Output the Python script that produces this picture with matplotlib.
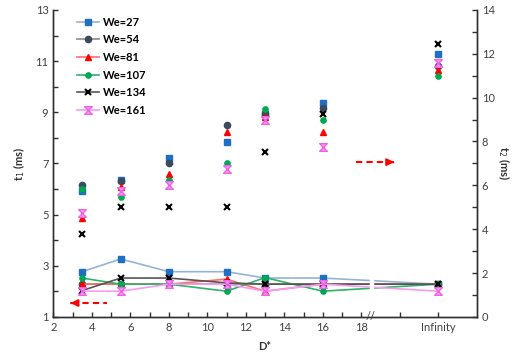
import numpy as np
import matplotlib
matplotlib.use("Agg")
import matplotlib.pyplot as plt
from matplotlib.path import Path

plt.rcParams['font.family'] = ['Lato', 'DejaVu Sans']

# D* positions (22 stands for "Infinity")
d_star = [3.5, 5.5, 8, 11, 13, 16, 22]
we_labels = ['We=27', 'We=54', 'We=81', 'We=107', 'We=134', 'We=161']

# t1 (ms), left axis
t1_we27 = [5.94, 6.35, 7.22, 7.84, 8.92, 9.36, 11.28]
t1_we54 = [6.14, 6.32, 7.00, 8.49, 8.95, 9.17, 10.80]
t1_we81 = [4.85, 6.09, 6.57, 8.24, 8.80, 8.24, 10.66]
t1_we107 = [6.00, 5.70, 6.36, 7.01, 9.14, 8.68, 10.40]
t1_we134 = [4.23, 5.29, 5.29, 5.29, 7.44, 8.93, 11.67]
t1_we161 = [5.07, 5.92, 6.14, 6.79, 8.71, 7.65, 10.92]

# t2 (ms), right axis
t2_we27 = [2.06, 2.64, 2.06, 2.06, 1.77, 1.77, 1.49]
t2_we54 = [1.49, 1.49, 1.49, 1.49, 1.49, 1.49, 1.49]
t2_we81 = [1.49, 1.49, 1.49, 1.72, 1.17, 1.49, 1.49]
t2_we107 = [1.77, 1.49, 1.49, 1.17, 1.79, 1.17, 1.49]
t2_we134 = [1.20, 1.77, 1.77, 1.55, 1.49, 1.49, 1.49]
t2_we161 = [1.17, 1.17, 1.49, 1.49, 1.17, 1.49, 1.17]

hourglass = Path([(-1, 1), (1, 1), (-1, -1), (1, -1), (-1, 1)],
                 [Path.MOVETO, Path.LINETO, Path.LINETO, Path.LINETO, Path.CLOSEPOLY])

styles = [
    dict(marker='s', mfc='#1F6FC5', mec='#1F6FC5', line='#95B3D7', ms=4.5),
    dict(marker='o', mfc='#3B4A5C', mec='#3B4A5C', line='#8C8C8C', ms=4.5),
    dict(marker='^', mfc='#FF0000', mec='#FF0000', line='#FF6B6B', ms=5),
    dict(marker='o', mfc='#00A850', mec='#00A850', line='#2DB36A', ms=3.8),
    dict(marker='x', mfc='black', mec='black', line='#555555', ms=5),
    dict(marker=hourglass, mfc='#F8A8F0', mec='#F060E8', line='#F79AF0', ms=5.5),
]

t1_all = [t1_we27, t1_we54, t1_we81, t1_we107, t1_we134, t1_we161]
t2_all = [t2_we27, t2_we54, t2_we81, t2_we107, t2_we134, t2_we161]

fig = plt.figure(figsize=(5.28, 3.56), dpi=100)
ax = fig.add_axes([0.101, 0.110, 0.802, 0.862])
ax2 = ax.twinx()

handles = []
for lab, s, y1, y2 in zip(we_labels, styles, t1_all, t2_all):
    mew = 1.5 if s['marker'] == 'x' else 1.0
    ax.plot(d_star, y1, ls='none', marker=s['marker'], ms=s['ms'],
            mfc=s['mfc'], mec=s['mec'], mew=mew, zorder=3)
    h, = ax2.plot(d_star, y2, color=s['line'], lw=1.2, marker=s['marker'],
                  ms=s['ms'], mfc=s['mfc'], mec=s['mec'], mew=mew, label=lab)
    handles.append(h)

# axis break gap through the lines
ax2.axvspan(18.45, 18.62, ymin=0.04, ymax=0.2, color='white', zorder=5)
ax.text(18.5, 1.0, '//', ha='center', va='center', fontsize=8,
        color='#404040', clip_on=False, zorder=6)

# dashed red arrows
ax.plot([2.95, 4.8], [1.54, 1.54], color='red', ls='--', lw=1.5, dashes=(3, 2))
ax.annotate('', xy=(2.75, 1.54), xytext=(3.1, 1.54),
            arrowprops=dict(arrowstyle='-|>', color='red', lw=1.5, mutation_scale=10))
ax.plot([17.7, 19.6], [7.05, 7.05], color='red', ls='--', lw=1.5, dashes=(3, 2))
ax.annotate('', xy=(19.85, 7.05), xytext=(19.5, 7.05),
            arrowprops=dict(arrowstyle='-|>', color='red', lw=1.5, mutation_scale=10))

ax.set_xlim(2, 24)
ax.set_ylim(1, 13)
ax2.set_ylim(0, 14)

ax.set_xticks([2, 4, 6, 8, 10, 12, 14, 16, 18, 20, 22])
ax.set_xticklabels(['2', '4', '6', '8', '10', '12', '14', '16', '18', '', 'Infinity'])
ax.set_xticks([3, 5, 7, 9, 11, 13, 15, 17], minor=True)
ax.set_yticks([1, 3, 5, 7, 9, 11, 13])
ax.set_yticks([2, 4, 6, 8, 10, 12], minor=True)
ax2.set_yticks([0, 2, 4, 6, 8, 10, 12, 14])
ax2.set_yticks([1, 3, 5, 7, 9, 11, 13], minor=True)

for a in (ax, ax2):
    a.spines['top'].set_visible(False)
    for sp in a.spines.values():
        sp.set_color('#303030')
        sp.set_linewidth(1.0)
    a.tick_params(which='both', direction='in', length=3.5, width=1.0,
                  color='#303030', labelsize=8, labelcolor='#404040')

ax.set_xlabel('D*', fontsize=8, fontweight='bold', color='#333333', labelpad=6)
ax.set_ylabel('t$_1$ (ms)', fontsize=8, fontweight='bold', color='#333333', labelpad=6)
ax2.set_ylabel('t$_2$ (ms)', fontsize=8, fontweight='bold', color='#333333',
               rotation=270, labelpad=12)

ax.legend(handles=handles, loc='upper left', bbox_to_anchor=(0.04, 1.0),
          frameon=False, prop={'size': 8, 'weight': 'bold'},
          handlelength=2.0, handletextpad=0.3, labelspacing=0.6, borderaxespad=0.2)

fig.savefig('out.png', dpi=100)
